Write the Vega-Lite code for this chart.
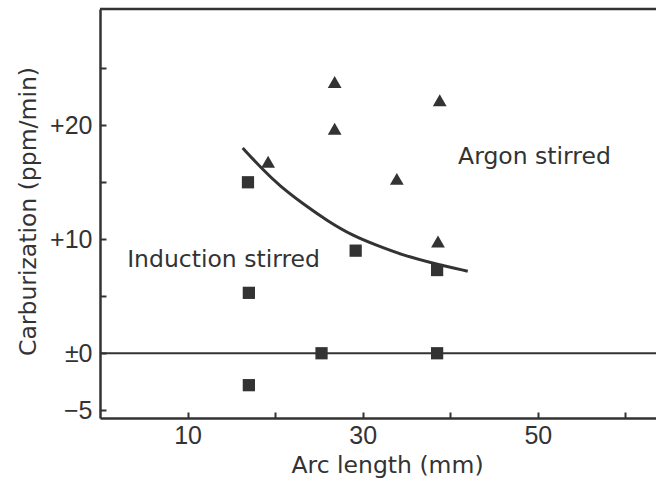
{
  "$schema": "https://vega.github.io/schema/vega-lite/v6.json",
  "width": 556,
  "height": 409,
  "autosize": {"type": "none"},
  "padding": {"left": 100, "top": 9, "right": 0, "bottom": 68},
  "background": "white",
  "view": {"stroke": null},
  "config": {
    "font": "Liberation Sans",
    "axis": {
      "domainColor": "#333",
      "domainWidth": 2.5,
      "tickColor": "#333",
      "tickWidth": 2,
      "tickSize": -6,
      "grid": false,
      "labelFont": "Liberation Sans",
      "labelFontSize": 25,
      "labelColor": "#333",
      "titleFont": "DejaVu Sans",
      "titleFontSize": 23.5,
      "titleFontWeight": "normal",
      "titleColor": "#333"
    }
  },
  "datasets": {
    "points": [
      {"arc": 26.8, "carb": 23.8, "series": "Argon stirred"},
      {"arc": 38.8, "carb": 22.2, "series": "Argon stirred"},
      {"arc": 26.8, "carb": 19.7, "series": "Argon stirred"},
      {"arc": 19.2, "carb": 16.8, "series": "Argon stirred"},
      {"arc": 33.9, "carb": 15.3, "series": "Argon stirred"},
      {"arc": 38.6, "carb": 9.8, "series": "Argon stirred"},
      {"arc": 16.9, "carb": 15.0, "series": "Induction stirred"},
      {"arc": 29.2, "carb": 9.0, "series": "Induction stirred"},
      {"arc": 38.5, "carb": 7.3, "series": "Induction stirred"},
      {"arc": 17.0, "carb": 5.3, "series": "Induction stirred"},
      {"arc": 25.3, "carb": 0.0, "series": "Induction stirred"},
      {"arc": 38.5, "carb": 0.0, "series": "Induction stirred"},
      {"arc": 17.0, "carb": -2.8, "series": "Induction stirred"}
    ],
    "curve": [
      {"arc": 16.3, "carb": 18.0},
      {"arc": 18.6, "carb": 16.1},
      {"arc": 20.5, "carb": 14.7},
      {"arc": 23.2, "carb": 13.1},
      {"arc": 26.0, "carb": 11.6},
      {"arc": 28.9, "carb": 10.3},
      {"arc": 31.5, "carb": 9.5},
      {"arc": 34.6, "carb": 8.6},
      {"arc": 38.0, "carb": 7.9},
      {"arc": 42.0, "carb": 7.2}
    ],
    "labels": [
      {"arc": 40.9, "carb": 17.2, "text": "Argon stirred"},
      {"arc": 3.1, "carb": 8.2, "text": "Induction stirred"}
    ],
    "zero": [{"carb": 0}],
    "top": [{"carb": 30.2}]
  },
  "layer": [
    {
      "data": {"name": "zero"},
      "mark": {"type": "rule", "color": "#333", "strokeWidth": 2},
      "encoding": {
        "y": {
          "field": "carb",
          "type": "quantitative",
          "scale": {"domain": [-5.68, 30.2], "nice": false, "zero": false},
          "axis": {
            "title": "Carburization (ppm/min)",
            "values": [-5, 0, 5, 10, 15, 20, 25],
            "labelExpr": "datum.value == 20 ? '+20' : datum.value == 10 ? '+10' : datum.value == 0 ? '±0' : datum.value == -5 ? '−5' : ''",
            "labelPadding": 14,
            "titleX": -72,
            "titleY": 202,
            "titleAnchor": null,
            "titleAlign": "center",
            "titleBaseline": "middle"
          }
        }
      }
    },
    {
      "data": {"name": "top"},
      "mark": {"type": "rule", "color": "#333", "strokeWidth": 2.5},
      "encoding": {"y": {"field": "carb", "type": "quantitative"}}
    },
    {
      "data": {"name": "curve"},
      "mark": {"type": "line", "color": "#333", "strokeWidth": 3, "interpolate": "basis"},
      "encoding": {
        "x": {
          "field": "arc",
          "type": "quantitative",
          "scale": {"domain": [0, 63.5], "nice": false, "zero": false},
          "axis": {
            "title": "Arc length (mm)",
            "values": [10, 20, 30, 40, 50, 60],
            "labelExpr": "datum.value % 20 == 10 ? datum.label : ''",
            "labelPadding": 11,
            "titleX": 287,
            "titleY": 54,
            "titleAnchor": null,
            "titleAlign": "center",
            "titleBaseline": "alphabetic"
          }
        },
        "y": {"field": "carb", "type": "quantitative"}
      }
    },
    {
      "data": {"name": "points"},
      "mark": {"type": "point", "filled": true, "opacity": 1, "color": "#333"},
      "encoding": {
        "x": {"field": "arc", "type": "quantitative"},
        "y": {"field": "carb", "type": "quantitative"},
        "shape": {
          "field": "series",
          "type": "nominal",
          "scale": {"domain": ["Argon stirred", "Induction stirred"], "range": ["triangle-up", "square"]},
          "legend": null
        },
        "size": {
          "field": "series",
          "type": "nominal",
          "scale": {"domain": ["Argon stirred", "Induction stirred"], "range": [190, 150]},
          "legend": null
        }
      }
    },
    {
      "data": {"name": "labels"},
      "mark": {"type": "text", "align": "left", "baseline": "middle", "fontSize": 23.5, "color": "#333", "font": "DejaVu Sans"},
      "encoding": {
        "x": {"field": "arc", "type": "quantitative"},
        "y": {"field": "carb", "type": "quantitative"},
        "text": {"field": "text"}
      }
    }
  ]
}
